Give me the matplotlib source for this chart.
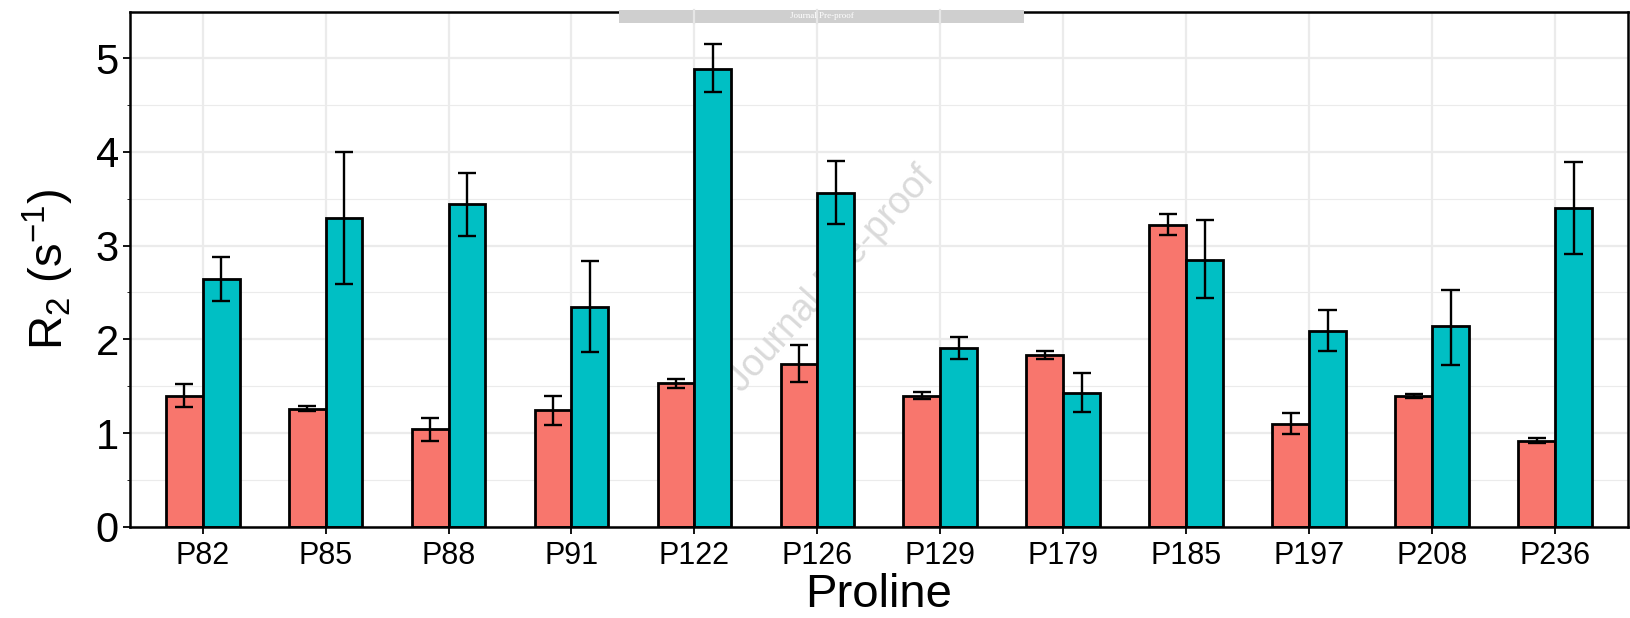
import numpy as np
import matplotlib
matplotlib.use("Agg")
import matplotlib.pyplot as plt
from matplotlib.patches import Rectangle

plt.rcParams['font.family'] = ['Liberation Sans', 'DejaVu Sans']
plt.rcParams['mathtext.fontset'] = 'custom'
plt.rcParams['mathtext.rm'] = 'Liberation Sans'
plt.rcParams['mathtext.it'] = 'Liberation Sans'

prolines = ['P82', 'P85', 'P88', 'P91', 'P122', 'P126', 'P129', 'P179',
            'P185', 'P197', 'P208', 'P236']

# R2 per residue for the two conditions, with lower / upper error limits
r2_a = [1.40, 1.26, 1.04, 1.25, 1.53, 1.74, 1.40, 1.83, 3.22, 1.10, 1.39, 0.92]
r2_a_lo = [1.28, 1.23, 0.92, 1.09, 1.48, 1.54, 1.36, 1.79, 3.11, 0.99, 1.37, 0.89]
r2_a_hi = [1.52, 1.29, 1.16, 1.39, 1.58, 1.94, 1.44, 1.88, 3.34, 1.21, 1.42, 0.95]

r2_b = [2.64, 3.29, 3.44, 2.35, 4.89, 3.56, 1.91, 1.43, 2.85, 2.09, 2.14, 3.40]
r2_b_lo = [2.41, 2.59, 3.10, 1.87, 4.64, 3.23, 1.79, 1.22, 2.44, 1.88, 1.73, 2.91]
r2_b_hi = [2.88, 4.00, 3.78, 2.84, 5.15, 3.90, 2.03, 1.64, 3.27, 2.31, 2.53, 3.89]

col_a = '#F8766D'
col_b = '#00BFC4'
bar_w = 0.3
cap_w = 0.15

fig = plt.figure(figsize=(16.30, 6.18), dpi=100)
ax = fig.add_axes([0.0798, 0.1477, 0.9188, 0.8323])

x = np.arange(len(prolines))

ax.set_axisbelow(True)
ax.set_yticks(np.arange(0.5, 5.5, 1.0), minor=True)
ax.grid(which='major', color='#EBEBEB', linewidth=1.6)
ax.grid(which='minor', axis='y', color='#EBEBEB', linewidth=0.8)

# faint diagonal watermark behind the bars
ax.text(0.468, 0.48, 'Journal Pre-proof', transform=ax.transAxes, rotation=48,
        fontsize=27, color='#DADADA', ha='center', va='center', zorder=1)

for vals, lo, hi, col, off in [(r2_a, r2_a_lo, r2_a_hi, col_a, -bar_w / 2),
                               (r2_b, r2_b_lo, r2_b_hi, col_b, bar_w / 2)]:
    xs = x + off
    ax.bar(xs, vals, width=bar_w, color=col, edgecolor='black', linewidth=2.0, zorder=2)
    ax.vlines(xs, lo, hi, color='black', linewidth=1.7, zorder=3)
    ax.hlines(lo, xs - cap_w / 2, xs + cap_w / 2, color='black', linewidth=1.7, zorder=3)
    ax.hlines(hi, xs - cap_w / 2, xs + cap_w / 2, color='black', linewidth=1.7, zorder=3)

ax.set_xlim(-0.59, len(prolines) - 1 + 0.59)
ax.set_ylim(0, 5.49)
ax.set_xticks(x)
ax.set_xticklabels(prolines, fontsize=22)
ax.set_yticks(np.arange(0, 6, 1))
ax.set_yticklabels([str(v) for v in range(6)], fontsize=30)
ax.tick_params(axis='both', direction='out', length=5, width=1.3, color='black')
ax.tick_params(axis='x', pad=5)
ax.tick_params(axis='y', pad=3)

for s in ax.spines.values():
    s.set_linewidth(1.8)
    s.set_color('black')

ax.set_xlabel('Proline', fontsize=34, labelpad=2)
ax.set_ylabel(r'R$_2$ (s$^{-1}$)', fontsize=34, labelpad=14)

# grey banner across the top edge
fig.patches.append(Rectangle((0.3798, 0.9633), 0.2485, 0.0206, transform=fig.transFigure,
                             facecolor='#CFCFCF', edgecolor='none', zorder=10))
for xp in x:
    fx = fig.transFigure.inverted().transform(ax.transData.transform((xp, 0)))[0]
    if 0.3798 < fx < 0.3798 + 0.2485:
        fig.lines.append(plt.Line2D([fx, fx], [0.9633, 0.9839], transform=fig.transFigure,
                                    color='#E6E6E6', linewidth=1.6, zorder=11))
fig.text(0.3798 + 0.2485 / 2, 0.9736, 'Journal Pre-proof', fontsize=6.5,
         family='Liberation Serif', color='white', ha='center', va='center', zorder=12)

fig.savefig('out.png', dpi=100)
